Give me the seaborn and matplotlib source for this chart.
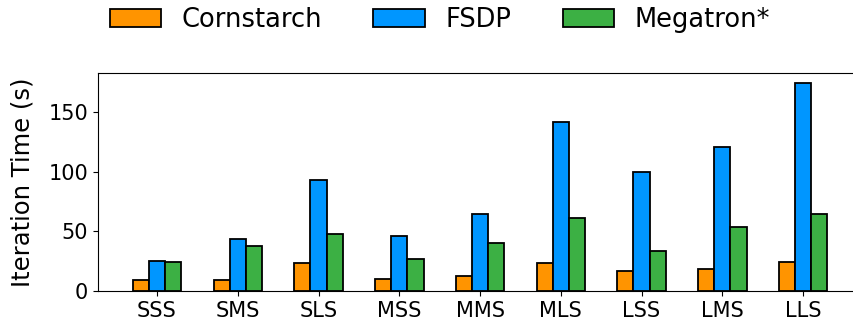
import matplotlib
matplotlib.use("Agg")
import matplotlib.pyplot as plt
import pandas as pd
import seaborn as sns

# Model configurations (size of three dimensions: S/M/L)
configs = ["SSS", "SMS", "SLS", "MSS", "MMS", "MLS", "LSS", "LMS", "LLS"]

# Iteration time in seconds per system
cornstarch = [9.0, 9.3, 23.9, 10.4, 12.4, 23.9, 16.8, 18.5, 24.1]
fsdp = [25.2, 43.7, 93.0, 46.5, 65.0, 142.0, 99.7, 120.8, 174.3]
megatron = [24.7, 37.8, 47.9, 26.6, 40.4, 61.3, 33.6, 53.8, 65.0]

systems = ["Cornstarch", "FSDP", "Megatron*"]
colors = ["#ff9400", "#0096ff", "#3cb044"]

df = pd.DataFrame({
    "config": configs * 3,
    "system": [s for s in systems for _ in configs],
    "time": cornstarch + fsdp + megatron,
})

fig = plt.figure(figsize=(8.54, 3.26), dpi=100)
ax = fig.add_axes([0.1148, 0.1074, 0.8946, 0.669])

sns.barplot(
    data=df, x="config", y="time", hue="system",
    palette=colors, width=0.6, edgecolor="black", linewidth=1.3,
    saturation=1, ax=ax, legend=True,
)

ax.set_xlim(-0.73, 8.73)
ax.set_ylim(0, 183)
ax.set_yticks([0, 50, 100, 150])
ax.set_xlabel("")
ax.set_ylabel("Iteration Time (s)", fontsize=17.5, labelpad=10)
ax.tick_params(axis="both", labelsize=15)

handles, labels = ax.get_legend_handles_labels()
ax.get_legend().remove()
fig.legend(
    handles, labels, loc="center", bbox_to_anchor=(0.515, 0.94),
    ncol=3, frameon=False, fontsize=18.5, columnspacing=2.0,
    handlelength=2.0, handletextpad=0.8,
)

fig.savefig("out.png", dpi=100)
